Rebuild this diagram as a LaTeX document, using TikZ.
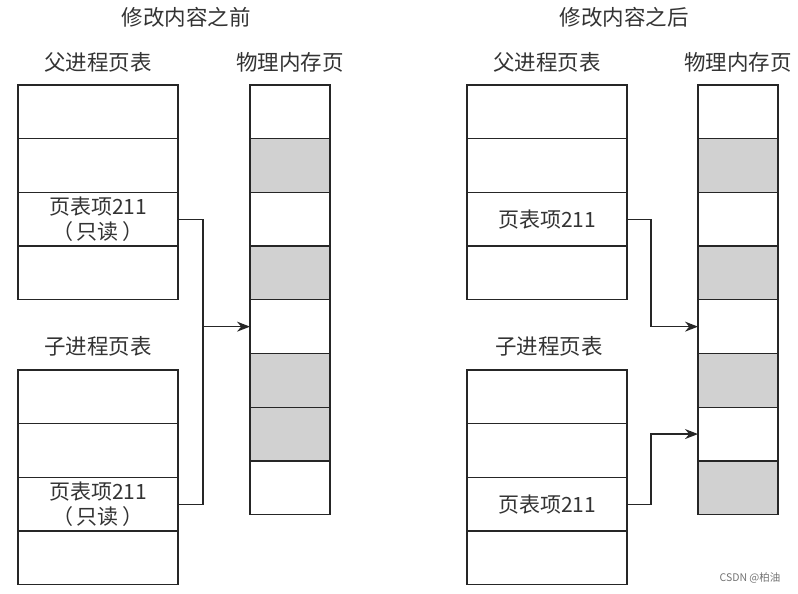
\documentclass[tikz,border=0pt]{standalone}
\usepackage{fontspec}
\newfontfamily\cjk{Noto Sans CJK SC}
\usetikzlibrary{arrows.meta,positioning}
\tikzset{
  cell/.style={rectangle, draw=black!85, line width=1.3pt, outer sep=0pt, inner sep=0pt,
               minimum width=160pt, minimum height=53.7pt, align=center, text=black!80,
               font=\cjk\fontsize{21}{25}\selectfont},
  pagecell/.style={cell, minimum width=80pt},
  usedpage/.style={pagecell, fill=black!18},
  head/.style={inner sep=0pt, text=black!80, font=\cjk\fontsize{21.5}{25}\selectfont},
  stamp/.style={inner sep=0pt, text=black!55, font=\cjk\fontsize{10.5}{12}\selectfont},
  link/.style={draw=black!85, line width=1.3pt},
  ptr/.style={-{Stealth[length=13pt,width=10pt]}, draw=black!85, line width=1.3pt}
}

\begin{document}
\begin{tikzpicture}[x=1pt, y=-1pt]
  \useasboundingbox (0,0) rectangle (798,594);

  % --- before the write ---
  \node[head] (tl) at (186,17) {修改内容之前};
  \node[head] (hpl) at (98,62) {父进程页表};
  \node[head] (hml) at (290,62) {物理内存页};
  \node[head] (hcl) at (98,346) {子进程页表};

  \node[cell, anchor=north west] (pl1) at (18,85) {};
  \node[cell, below=0pt of pl1] (pl2) {};
  \node[cell, below=0pt of pl2] (pl3) {页表项211\\（\,只读\,）};
  \node[cell, below=0pt of pl3] (pl4) {};

  \node[cell, anchor=north west] (cl1) at (18,370) {};
  \node[cell, below=0pt of cl1] (cl2) {};
  \node[cell, below=0pt of cl2] (cl3) {页表项211\\（\,只读\,）};
  \node[cell, below=0pt of cl3] (cl4) {};

  \node[pagecell, anchor=north west] (ml1) at (250,85) {};
  \foreach \s [count=\i from 2] in {usedpage,pagecell,usedpage,pagecell,usedpage,usedpage,pagecell}{
    \pgfmathtruncatemacro\prev{\i-1}
    \node[\s, below=0pt of ml\prev] (ml\i) {};
  }

  \coordinate (jl) at ([xshift=25pt]pl3.east |- ml5.west);
  \draw[link] (pl3.east) -| (jl);
  \draw[link] (cl3.east) -| (jl);
  \draw[ptr] (jl) -- (ml5.west);

  % --- after the write ---
  \node[head] (tr) at (624,17) {修改内容之后};
  \node[head] (hpr) at (547,62) {父进程页表};
  \node[head] (hmr) at (738,62) {物理内存页};
  \node[head] (hcr) at (549,346) {子进程页表};

  \node[cell, anchor=north west] (pr1) at (467,85) {};
  \node[cell, below=0pt of pr1] (pr2) {};
  \node[cell, below=0pt of pr2] (pr3) {页表项211};
  \node[cell, below=0pt of pr3] (pr4) {};

  \node[cell, anchor=north west] (cr1) at (467,370) {};
  \node[cell, below=0pt of cr1] (cr2) {};
  \node[cell, below=0pt of cr2] (cr3) {页表项211};
  \node[cell, below=0pt of cr3] (cr4) {};

  \node[pagecell, anchor=north west] (mr1) at (698,85) {};
  \foreach \s [count=\i from 2] in {usedpage,pagecell,usedpage,pagecell,usedpage,pagecell,usedpage}{
    \pgfmathtruncatemacro\prev{\i-1}
    \node[\s, below=0pt of mr\prev] (mr\i) {};
  }

  \draw[ptr] (pr3.east) -- ++(24,0) |- (mr5.west);
  \draw[ptr] (cr3.east) -- ++(24,0) |- (mr7.west);

  \node[stamp] (wm) at (750,578) {CSDN @柏油};
\end{tikzpicture}
\end{document}
